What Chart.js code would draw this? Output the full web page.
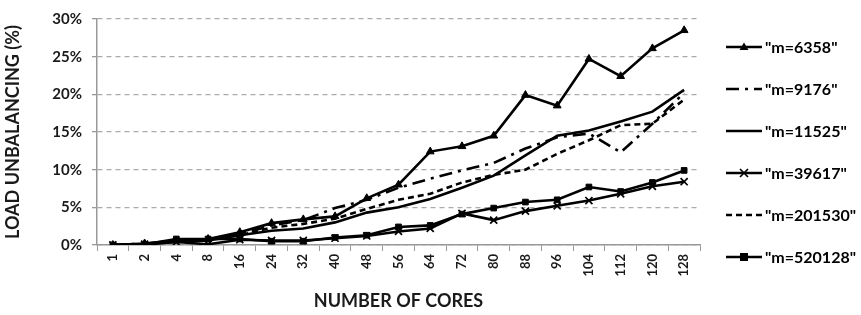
<!DOCTYPE html>
<html>
<head>
<meta charset="utf-8">
<script src="https://cdn.jsdelivr.net/npm/chart.js"></script>
<style>
  body { margin: 0; background: #fff; }
  #wrap { width: 861px; height: 315px; position: relative; }
</style>
</head>
<body>
<div id="wrap"><canvas id="myChart"></canvas></div>
<script>
// number of cores on the x axis
const cores = ['1', '2', '4', '8', '16', '24', '32', '40', '48', '56', '64', '72', '80', '88', '96', '104', '112', '120', '128'];

// load unbalancing in %
const m6358 = [0, 0.2, 0.6, 0.8, 1.7, 2.9, 3.4, 3.8, 6.2, 8.0, 12.4, 13.1, 14.5, 19.9, 18.5, 24.7, 22.4, 26.1, 28.5];
const m9176 = [0, 0.2, 0.5, 0.7, 1.4, 2.6, 3.3, 4.9, 6.0, 7.6, 8.8, 9.9, 10.9, 12.8, 14.3, 14.8, 12.3, 16.1, 20.2];
const m11525 = [0, 0.1, 0.4, 0.6, 1.3, 1.9, 2.2, 3.0, 4.3, 5.0, 6.1, 7.6, 9.2, 11.9, 14.5, 15.2, 16.4, 17.7, 20.6];
const m39617 = [0, 0.1, 0.4, 0.1, 0.7, 0.6, 0.6, 0.9, 1.2, 1.8, 2.2, 4.2, 3.3, 4.5, 5.2, 5.9, 6.8, 7.8, 8.4];
const m201530 = [0, 0.1, 0.5, 0.7, 1.3, 2.3, 2.8, 3.5, 4.8, 6.0, 6.8, 8.3, 9.3, 10.0, 12.1, 13.9, 15.9, 16.1, 19.3];
const m520128 = [0, 0.1, 0.8, 0.8, 0.8, 0.5, 0.5, 1.0, 1.3, 2.4, 2.6, 4.1, 4.9, 5.7, 6.0, 7.7, 7.1, 8.3, 9.9];

const seriesNames = ['"m=6358"', '"m=9176"', '"m=11525"', '"m=39617"', '"m=201530"', '"m=520128"'];
const yTicks = [0, 5, 10, 15, 20, 25, 30];

const FONT = 'Lato, "Open Sans", sans-serif';

function line(label, data, dash, marker, radius) {
  return {
    label: label,
    data: data,
    borderColor: '#000',
    backgroundColor: '#000',
    borderWidth: 2.6,
    borderDash: dash,
    pointStyle: marker || 'circle',
    pointRadius: marker ? radius : 0,
    pointBorderWidth: marker === 'crossRot' ? 1.7 : 1,
    pointBorderColor: '#000',
    pointBackgroundColor: '#000',
    tension: 0
  };
}

// hand-drawn legend on the right: line sample + marker + label
const sideLegend = {
  id: 'sideLegend',
  afterDraw(chart) {
    const ctx = chart.ctx;
    chart.data.datasets.forEach((ds, i) => {
      const y = 47 + i * 42;
      ctx.save();
      ctx.strokeStyle = '#000';
      ctx.lineWidth = 2.6;
      ctx.setLineDash(ds.borderDash || []);
      ctx.beginPath();
      ctx.moveTo(726, y);
      ctx.lineTo(762, y);
      ctx.stroke();
      ctx.setLineDash([]);
      ctx.fillStyle = '#000';
      const cx = 744;
      if (ds.pointStyle === 'triangle' && ds.pointRadius) {
        ctx.beginPath();
        ctx.moveTo(cx, y - 4.5);
        ctx.lineTo(cx + 4.5, y + 3);
        ctx.lineTo(cx - 4.5, y + 3);
        ctx.closePath();
        ctx.fill();
      } else if (ds.pointStyle === 'rect' && ds.pointRadius) {
        ctx.fillRect(cx - 4, y - 4, 8, 8);
      } else if (ds.pointStyle === 'crossRot' && ds.pointRadius) {
        ctx.lineWidth = 1.7;
        ctx.beginPath();
        ctx.moveTo(cx - 4, y - 4); ctx.lineTo(cx + 4, y + 4);
        ctx.moveTo(cx + 4, y - 4); ctx.lineTo(cx - 4, y + 4);
        ctx.stroke();
      }
      ctx.font = 'bold 16px ' + FONT;
      ctx.textBaseline = 'middle';
      ctx.textAlign = 'left';
      ctx.fillText(ds.label, 765, y + 1);
      ctx.restore();
    });
  }
};

const ctx = document.getElementById('myChart').getContext('2d');
new Chart(ctx, {
  type: 'line',
  data: {
    labels: cores,
    datasets: [
      line(seriesNames[0], m6358, [], 'triangle', 4.5),
      line(seriesNames[1], m9176, [13, 6, 3, 6], null),
      line(seriesNames[2], m11525, [], null),
      line(seriesNames[3], m39617, [], 'crossRot', 5),
      line(seriesNames[4], m201530, [6, 4], null),
      line(seriesNames[5], m520128, [], 'rect', 4)
    ]
  },
  plugins: [sideLegend],
  options: {
    responsive: true,
    maintainAspectRatio: false,
    animation: false,
    layout: { padding: { top: 15, right: 161, left: 2, bottom: 3 } },
    plugins: {
      legend: { display: false },
      tooltip: { enabled: false }
    },
    scales: {
      x: {
        offset: true,
        grid: { offset: true, drawOnChartArea: false, drawTicks: true, tickLength: 6, color: '#999' },
        border: { color: '#999', width: 1.5 },
        ticks: {
          color: '#1a1a1a',
          font: { family: FONT, size: 13, weight: 'bold' },
          minRotation: 90,
          maxRotation: 90,
          padding: 3
        },
        title: {
          display: true,
          text: 'NUMBER OF CORES',
          color: '#1a1a1a',
          font: { family: FONT, size: 18, weight: 'bold' },
          padding: { top: 2, bottom: 0 }
        },
        afterFit(scale) { scale.height = 67; }
      },
      y: {
        min: 0,
        max: 30,
        afterBuildTicks(scale) { scale.ticks = yTicks.map(v => ({ value: v })); },
        grid: { color: '#aaa', lineWidth: 1.3, tickLength: 5, tickColor: '#999' },
        border: { color: '#999', width: 1.5, dash: [5, 4] },
        ticks: {
          color: '#1a1a1a',
          font: { family: FONT, size: 15, weight: 'bold' },
          padding: 10,
          callback: v => v + '%'
        },
        title: {
          display: true,
          text: 'LOAD UNBALANCING (%)',
          color: '#1a1a1a',
          font: { family: FONT, size: 18, weight: 'bold' },
          padding: { top: 0, bottom: 6 }
        },
        afterFit(scale) { scale.width = 95; }
      }
    }
  }
});
</script>
</body>
</html>
